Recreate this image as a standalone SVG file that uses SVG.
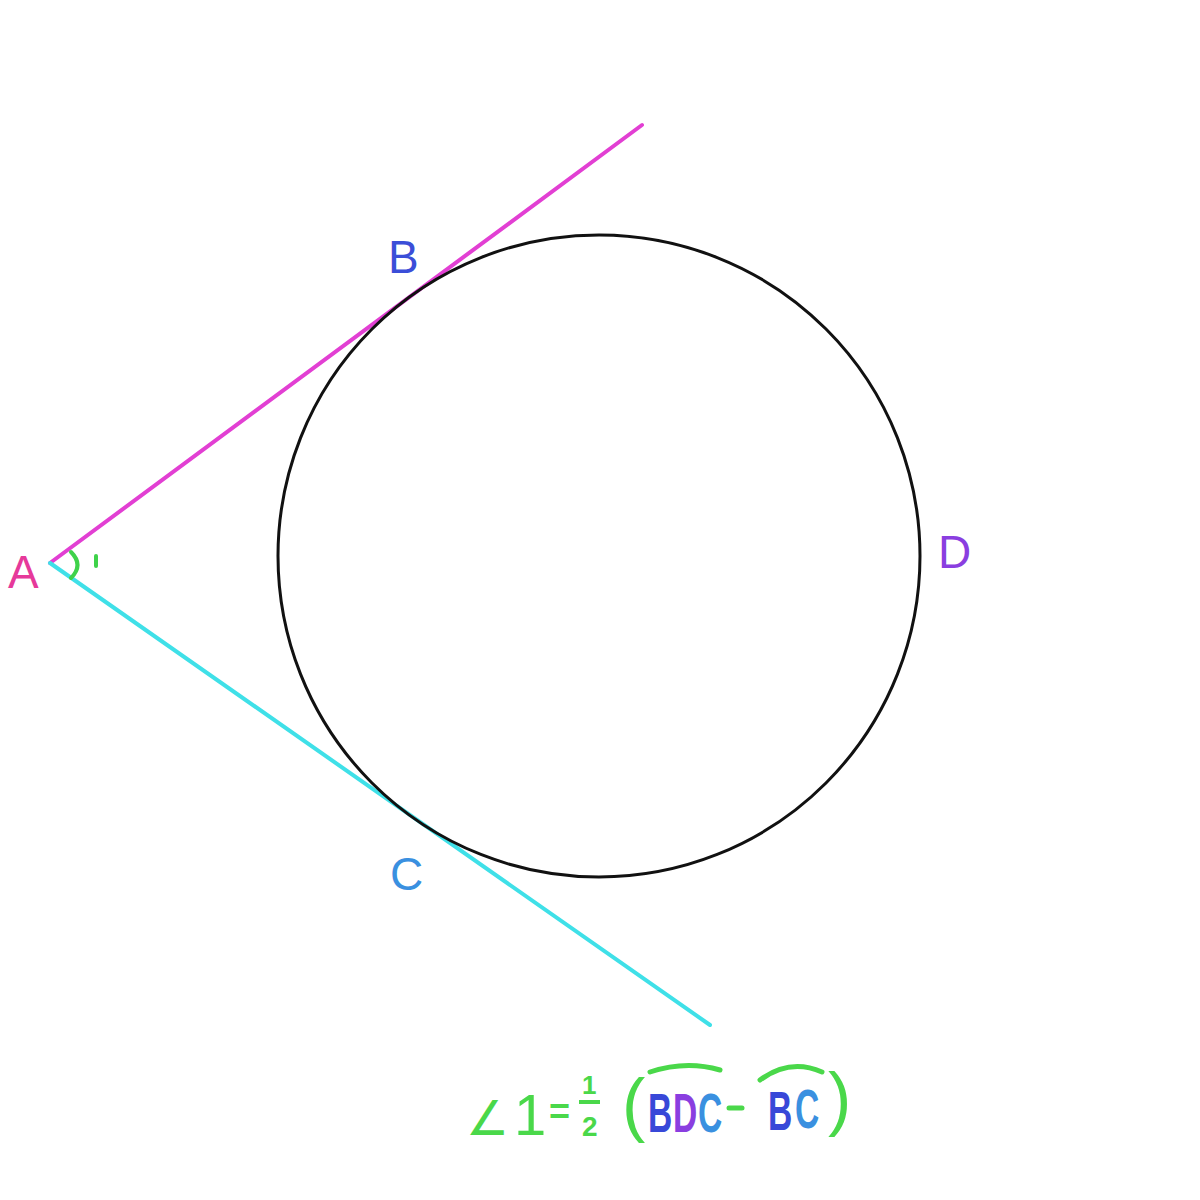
<svg xmlns="http://www.w3.org/2000/svg" width="1200" height="1200" viewBox="0 0 1200 1200">
<style>
.lbl{font-family:"Liberation Sans","DejaVu Sans",sans-serif;font-size:46px}
.f{font-family:"Liberation Sans","DejaVu Sans",sans-serif}
.g{fill:#4ad84a}
.arc{font-family:"Liberation Sans","DejaVu Sans",sans-serif;font-size:56px;font-weight:bold}
</style>
<rect width="1200" height="1200" fill="#ffffff"/>
<g id="connectors" fill="none" stroke-linecap="round">
<line id="AB" x1="50" y1="563" x2="642" y2="125" stroke="#e23fd3" stroke-width="4"/>
<line id="AC" x1="50" y1="563" x2="710" y2="1025" stroke="#3fe0e8" stroke-width="4"/>
</g>
<g id="circle"><circle cx="599" cy="556" r="321" fill="none" stroke="#111" stroke-width="3"/></g>
<g id="angle" fill="none" stroke="#3fd24a" stroke-width="4" stroke-linecap="round">
<path d="M71 552 Q84 565 71 578"/>
<line x1="96" y1="556" x2="96" y2="566"/>
</g>
<g id="A"><text class="lbl" x="8" y="588" fill="#e6399a">A</text></g>
<g id="B"><text class="lbl" x="388" y="273" fill="#3b4ed8">B</text></g>
<g id="C"><text class="lbl" x="390" y="890" fill="#3a90e0">C</text></g>
<g id="D"><text class="lbl" x="938" y="568" fill="#8a3ee0">D</text></g>
<g id="formula">
<text class="f g" x="466" y="1135" font-size="48">∠</text>
<text class="f g" x="514" y="1135" font-size="58">1</text>
<text class="f g" x="549" y="1124" font-size="36" font-weight="bold">=</text>
<text class="f g" x="582" y="1094" font-size="26" font-weight="bold">1</text>
<line x1="579" y1="1102" x2="600" y2="1102" stroke="#4ad84a" stroke-width="4"/>
<text class="f g" x="582" y="1136" font-size="28" font-weight="bold">2</text>
<text class="f g" x="622" y="1128" font-size="70">(</text>
<text class="arc" transform="translate(648 1132) scale(0.6 1)" fill="#3848d8">B</text>
<text class="arc" transform="translate(673 1132) scale(0.6 1)" fill="#8a3ee0">D</text>
<text class="arc" transform="translate(698 1132) scale(0.6 1)" fill="#3a90e0">C</text>
<path d="M650 1072 Q686 1060 720 1070" fill="none" stroke="#4ad84a" stroke-width="5" stroke-linecap="round"/>
<line x1="729" y1="1108" x2="742" y2="1108" stroke="#4ad84a" stroke-width="5" stroke-linecap="round"/>
<text class="arc" transform="translate(768 1130) scale(0.6 1)" fill="#3848d8">B</text>
<text class="arc" transform="translate(795 1128) scale(0.6 1)" fill="#3a90e0">C</text>
<path d="M760 1080 Q790 1058 822 1072" fill="none" stroke="#4ad84a" stroke-width="5" stroke-linecap="round"/>
<text class="f g" x="828" y="1122" font-size="70">)</text>
</g>
</svg>
